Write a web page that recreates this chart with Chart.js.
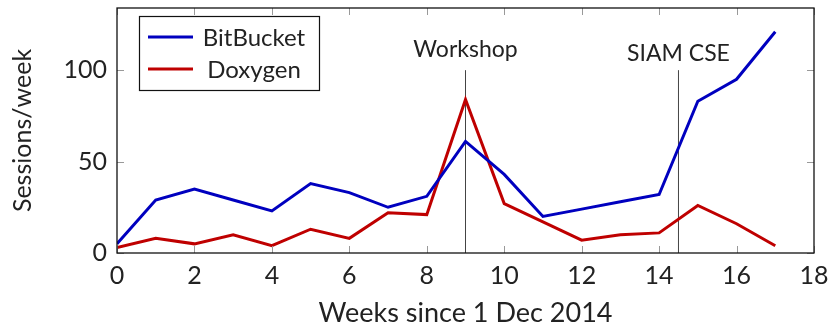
<!DOCTYPE html>
<html>
<head>
<meta charset="utf-8">
<script src="https://cdn.jsdelivr.net/npm/chart.js@4.4.1/dist/chart.umd.min.js"></script>
<style>
  body { margin: 0; background: #fff; }
</style>
</head>
<body>
<canvas id="sessions" width="830" height="325"></canvas>
<script>
// weekly sessions
var weeks     = [0, 1, 2, 3, 4, 5, 6, 7, 8, 9, 10, 11, 12, 13, 14, 15, 16, 17];
var bitbucket = [5, 29, 35, 29, 23, 38, 33, 25, 31, 61, 43, 20, 24, 28, 32, 83, 95, 121];
var doxygen   = [3, 8, 5, 10, 4, 13, 8, 22, 21, 84, 27, 17, 7, 10, 11, 26, 16, 4];

var xTicks = [0, 2, 4, 6, 8, 10, 12, 14, 16, 18];
var yTicks = [0, 50, 100];

var eventWeeks  = [9, 14.5];
var eventLabels = ['Workshop', 'SIAM CSE'];
var eventTop    = 100;

var FONT = 'Lato, "Open Sans", sans-serif';
var BLUE = '#0000bf';
var RED  = '#bf0000';

function points(ys) {
    return weeks.map(function (w, i) { return {x: w, y: ys[i]}; });
}

var datasets = [
    {label: 'BitBucket', data: points(bitbucket), borderColor: BLUE, borderWidth: 3},
    {label: 'Doxygen', data: points(doxygen), borderColor: RED, borderWidth: 3}
];
eventWeeks.forEach(function (w, i) {
    datasets.push({
        label: eventLabels[i],
        isEvent: true,
        data: [{x: w, y: 0}, {x: w, y: eventTop}],
        borderColor: '#444',
        borderWidth: 1
    });
});

// frame, inward ticks, event labels and the boxed legend
var decorations = {
    id: 'decorations',
    afterDatasetsDraw: function (chart) {
        var ctx = chart.ctx, a = chart.chartArea;
        var xs = chart.scales.x, ys = chart.scales.y;
        ctx.save();

        ctx.strokeStyle = '#999';
        ctx.lineWidth = 1;
        ctx.beginPath();
        xTicks.forEach(function (t) {
            var px = Math.round(xs.getPixelForValue(t)) + 0.5;
            ctx.moveTo(px, a.bottom); ctx.lineTo(px, a.bottom - 7);
            ctx.moveTo(px, a.top); ctx.lineTo(px, a.top + 7);
        });
        yTicks.forEach(function (t) {
            var py = Math.round(ys.getPixelForValue(t)) + 0.5;
            ctx.moveTo(a.left, py); ctx.lineTo(a.left + 7, py);
            ctx.moveTo(a.right, py); ctx.lineTo(a.right - 7, py);
        });
        ctx.stroke();

        ctx.strokeStyle = '#111';
        ctx.lineWidth = 1.3;
        ctx.strokeRect(a.left, a.top, a.right - a.left, a.bottom - a.top);

        // event labels sit just above the top of their line
        ctx.fillStyle = '#222';
        ctx.font = '23px ' + FONT;
        ctx.textAlign = 'center';
        ctx.textBaseline = 'alphabetic';
        eventWeeks.forEach(function (w, i) {
            var m = ctx.measureText(eventLabels[i]);
            var bottom = ys.getPixelForValue(eventTop) - 9;
            ctx.fillText(eventLabels[i], xs.getPixelForValue(w), bottom - m.actualBoundingBoxDescent);
        });

        // legend
        var lx = 139, ly = 16, lw = 180, lh = 74;
        ctx.fillStyle = '#fff';
        ctx.fillRect(lx, ly, lw, lh);
        ctx.strokeStyle = '#111';
        ctx.lineWidth = 1.2;
        ctx.strokeRect(lx + 0.5, ly + 0.5, lw, lh);
        ctx.font = '24px ' + FONT;
        ctx.textBaseline = 'middle';
        ctx.textAlign = 'center';
        chart.data.datasets.filter(function (d) { return !d.isEvent; }).forEach(function (d, i) {
            var y = ly + 21 + i * 32;
            ctx.strokeStyle = d.borderColor;
            ctx.lineWidth = 3;
            ctx.beginPath();
            ctx.moveTo(lx + 9, y); ctx.lineTo(lx + 54, y);
            ctx.stroke();
            ctx.fillStyle = '#222';
            ctx.fillText(d.label, lx + 115, y + 1);
        });
        ctx.restore();
    }
};

new Chart(document.getElementById('sessions'), {
    type: 'line',
    data: {datasets: datasets},
    options: {
        responsive: false,
        animation: false,
        layout: {padding: {top: 8, right: 16, left: 0, bottom: 0}},
        elements: {
            line: {tension: 0, borderCapStyle: 'butt', borderJoinStyle: 'miter'},
            point: {radius: 0}
        },
        plugins: {legend: {display: false}, tooltip: {enabled: false}},
        scales: {
            x: {
                type: 'linear', min: 0, max: 18,
                afterBuildTicks: function (s) { s.ticks = xTicks.map(function (v) { return {value: v}; }); },
                afterFit: function (s) { s.height = 72; s.paddingLeft = 0; s.paddingRight = 0; },
                grid: {display: false, drawTicks: false},
                border: {display: false},
                ticks: {color: '#222', font: {family: FONT, size: 25}, padding: 8, maxRotation: 0},
                title: {display: true, text: 'Weeks since 1 Dec 2014', color: '#222',
                        font: {family: FONT, size: 27}, padding: {top: 0, bottom: -4}}
            },
            y: {
                min: 0, max: 134,
                afterBuildTicks: function (s) { s.ticks = yTicks.map(function (v) { return {value: v}; }); },
                afterFit: function (s) { s.width = 117; s.paddingTop = 0; s.paddingBottom = 0; },
                grid: {display: false, drawTicks: false},
                border: {display: false},
                ticks: {color: '#222', font: {family: FONT, size: 25}, padding: 10},
                title: {display: true, text: 'Sessions/week', color: '#222',
                        font: {family: FONT, size: 25}, padding: {top: 8, bottom: 0}}
            }
        }
    },
    plugins: [decorations]
});
</script>
</body>
</html>
